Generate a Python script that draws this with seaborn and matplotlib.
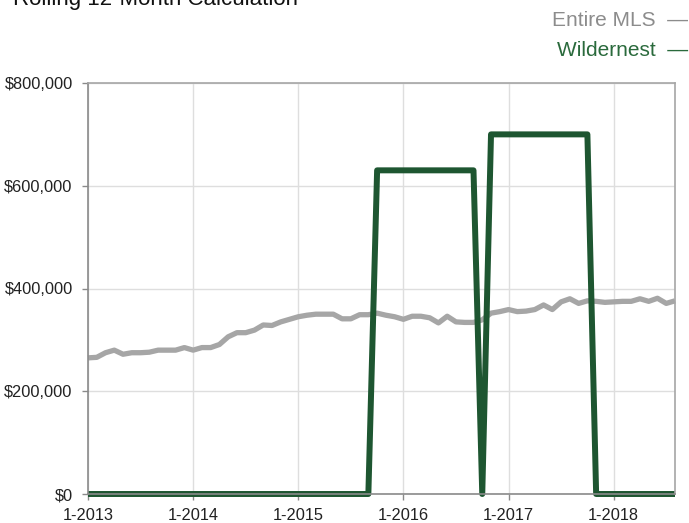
import numpy as np
import pandas as pd
import seaborn as sns
import matplotlib.pyplot as plt
from matplotlib.ticker import StrMethodFormatter

# monthly values, Jan 2013 .. Aug 2018
entire_mls = [265000, 266000, 275000, 280000, 272000, 275000, 275000, 276000, 280000, 280000,
              280000, 285000, 280000, 285000, 285000, 291000, 306000, 314000, 314000, 319000,
              329000, 328000, 335000, 340000, 345000, 348000, 350000, 350000, 350000, 341000,
              341000, 349000, 349000, 352000, 348000, 345000, 340000, 346000, 346000, 343000,
              333000, 346000, 335000, 334000, 334000, 339000, 352000, 355000, 359000, 355000,
              356000, 359000, 368000, 359000, 374000, 380000, 371000, 376000, 375000, 373000,
              374000, 375000, 375000, 380000, 375000, 381000, 371000, 376000]
wildernest = [0] * 33 + [630000] * 12 + [0] + [700000] * 12 + [0] * 10
months = list(range(len(entire_mls)))
tick_pos = [0, 12, 24, 36, 48, 60]
tick_labels = ["1-2013", "1-2014", "1-2015", "1-2016", "1-2017", "1-2018"]

df = pd.DataFrame({"month": months * 2,
                   "price": entire_mls + wildernest,
                   "area": ["Entire MLS"] * len(months) + ["Wildernest"] * len(months)})

sns.set_style("white")
plt.rcParams['font.family'] = ['Liberation Sans', 'DejaVu Sans']

fig = plt.figure(figsize=(6.89, 5.23), dpi=100)
ax = fig.add_axes([88 / 689, 1 - 494 / 523, (675 - 88) / 689, (494 - 83) / 523])

gray = "#a6a6a6"
green = "#1e5631"
sns.lineplot(data=df, x="month", y="price", hue="area",
             palette={"Entire MLS": gray, "Wildernest": green},
             linewidth=3.8, legend=False, ax=ax)
for ln in ax.lines:
    ln.set_clip_on(False)
    ln.set_solid_joinstyle("round")
    ln.set_solid_capstyle("butt")
ax.lines[1].set_linewidth(4.3)

ax.set_xlim(0, 67)
ax.set_ylim(0, 800000)
ax.set_xticks(tick_pos)
ax.set_xticklabels(tick_labels)
ax.set_yticks([0, 200000, 400000, 600000, 800000])
ax.yaxis.set_major_formatter(StrMethodFormatter("${x:,.0f}"))
ax.set_xlabel("")
ax.set_ylabel("")
ax.grid(True, color="#dedede", linewidth=1)
ax.tick_params(axis="both", labelsize=11.8, colors="#222222", length=4, width=1,
               direction="out", left=True, bottom=True)
ax.tick_params(axis="x", pad=6)
ax.tick_params(axis="y", pad=7)
for s in ["left", "bottom"]:
    ax.spines[s].set_color("#8a8a8a")
for s in ["top", "right"]:
    ax.spines[s].set_color("#a6a6a6")
for s in ax.spines.values():
    s.set_linewidth(1.2)
ax.tick_params(axis="both", color="#8a8a8a")

fig.text(13 / 689, 1 - 5 / 523, "Rolling 12-Month Calculation", fontsize=16,
         ha="left", va="baseline", color="#111111")
fig.text(688 / 689, 1 - 20 / 523, "Entire MLS  \u2014", fontsize=15,
         ha="right", va="center", color="#8c8c8c")
fig.text(688 / 689, 1 - 50 / 523, "Wildernest  \u2014", fontsize=15,
         ha="right", va="center", color="#2a6a3c")

fig.savefig("out.png", dpi=100)
